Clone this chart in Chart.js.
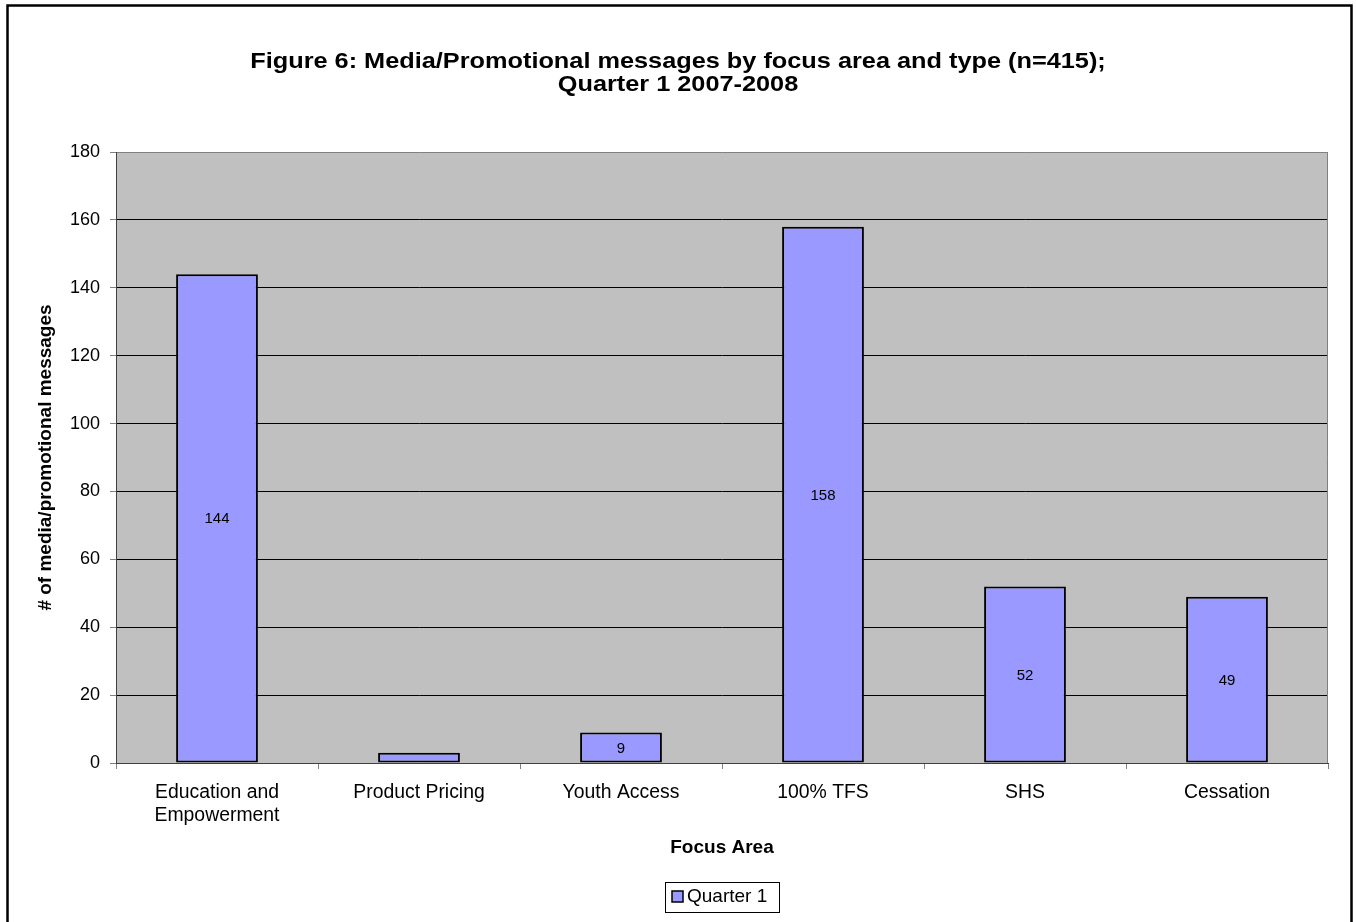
<!DOCTYPE html>
<html>
<head>
<meta charset="utf-8">
<script src="https://cdn.jsdelivr.net/npm/chart.js@4"></script>
<style>
  html, body { margin: 0; padding: 0; background: #ffffff; }
  #wrap { width: 1356px; height: 922px; }
</style>
</head>
<body>
<div id="wrap"><canvas id="chart" width="1356" height="922"></canvas></div>
<script>
// Focus areas and message counts for Quarter 1
const categories = [
  ['Education and', 'Empowerment'],
  'Product Pricing',
  'Youth Access',
  '100% TFS',
  'SHS',
  'Cessation'
];
const quarter1 = [144, 3, 9, 158, 52, 49];
const seriesName = 'Quarter 1';
const yTicks = { min: 0, max: 180, step: 20 };

const titleLines = [
  'Figure 6: Media/Promotional messages by focus area and type (n=415);',
  'Quarter 1 2007-2008'
];
const xTitle = 'Focus Area';
const yTitle = '# of media/promotional messages';

const FONT = "'Liberation Sans', Arial, sans-serif";
const BAR_FILL = '#9999FF';

// Gray plot background behind the bars
const plotBackground = {
  id: 'plotBackground',
  beforeDraw(chart) {
    const { ctx, chartArea: a } = chart;
    ctx.save();
    ctx.fillStyle = '#C0C0C0';
    ctx.fillRect(a.left, a.top, a.right - a.left, a.bottom - a.top);
    ctx.restore();
  }
};

// Draws text centred at (x, y) and stretched horizontally by sx
function wideText(ctx, text, x, y, sx) {
  ctx.save();
  ctx.translate(x, y);
  ctx.scale(sx, 1);
  ctx.fillText(text, 0, 0);
  ctx.restore();
}

// Frame, plot border, titles, value labels and legend
const decorations = {
  id: 'decorations',
  afterDraw(chart) {
    const { ctx, chartArea: a } = chart;
    ctx.save();

    // right plot border
    ctx.strokeStyle = '#808080';
    ctx.lineWidth = 1;
    ctx.beginPath();
    ctx.moveTo(Math.round(a.right) - 0.5, a.top);
    ctx.lineTo(Math.round(a.right) - 0.5, a.bottom);
    ctx.stroke();

    // outer frame
    ctx.strokeStyle = '#000000';
    ctx.lineWidth = 2.5;
    ctx.strokeRect(7.5, 5.5, 1344, 960);

    // chart title
    ctx.fillStyle = '#000000';
    ctx.textAlign = 'center';
    ctx.textBaseline = 'middle';
    ctx.font = 'bold 22px ' + FONT;
    wideText(ctx, titleLines[0], 678, 62, 1.15);
    wideText(ctx, titleLines[1], 678, 85, 1.15);

    // x axis title
    ctx.font = 'bold 19px ' + FONT;
    ctx.fillText(xTitle, (a.left + a.right) / 2, 848);

    // y axis title
    ctx.save();
    ctx.translate(46, (a.top + a.bottom) / 2);
    ctx.rotate(-Math.PI / 2);
    ctx.fillText(yTitle, 0, 0);
    ctx.restore();

    // value labels centred in each bar
    const meta = chart.getDatasetMeta(0);
    ctx.font = '15px ' + FONT;
    meta.data.forEach((bar, i) => {
      const h = bar.base - bar.y;
      if (h < 20) return;
      ctx.fillText(String(quarter1[i]), bar.x, (bar.y + bar.base) / 2 + 1);
    });

    // legend box
    const lx = 665, ly = 882, lw = 114, lh = 30;
    ctx.fillStyle = '#ffffff';
    ctx.fillRect(lx, ly, lw, lh);
    ctx.strokeStyle = '#000000';
    ctx.lineWidth = 1;
    ctx.strokeRect(lx + 0.5, ly + 0.5, lw, lh);
    ctx.fillStyle = BAR_FILL;
    ctx.fillRect(672, 891, 11, 11);
    ctx.lineWidth = 1.5;
    ctx.strokeRect(672, 891, 11, 11);
    ctx.fillStyle = '#000000';
    ctx.textAlign = 'left';
    ctx.font = '19px ' + FONT;
    ctx.fillText(seriesName, 687, 897);

    ctx.restore();
  }
};

new Chart(document.getElementById('chart'), {
  type: 'bar',
  data: {
    labels: categories,
    datasets: [{
      label: seriesName,
      data: quarter1,
      backgroundColor: BAR_FILL,
      borderColor: '#000000',
      borderWidth: 2,
      borderSkipped: false,
      barPercentage: 0.405,
      categoryPercentage: 1.0
    }]
  },
  options: {
    responsive: false,
    animation: false,
    events: [],
    layout: { padding: { top: 152, right: 28, bottom: 0, left: 0 } },
    plugins: {
      legend: { display: false },
      title: { display: false },
      tooltip: { enabled: false }
    },
    scales: {
      x: {
        afterFit(scale) { scale.height = 159; },
        grid: {
          offset: true,
          drawOnChartArea: false,
          tickLength: 6,
          color: '#808080',
          tickColor: '#808080'
        },
        border: { color: '#404040', width: 1 },
        ticks: {
          color: '#000000',
          padding: 12,
          font: { family: FONT, size: 19.4, lineHeight: 1.2 },
          maxRotation: 0,
          autoSkip: false
        }
      },
      y: {
        min: yTicks.min,
        max: yTicks.max,
        afterFit(scale) { scale.width = 116; },
        grid: {
          tickLength: 6,
          color: (c) => (c.tick && c.tick.value === yTicks.max ? '#808080' : '#000000'),
          tickColor: '#808080'
        },
        border: { color: '#404040', width: 1 },
        ticks: {
          stepSize: yTicks.step,
          color: '#000000',
          padding: 10,
          font: { family: FONT, size: 18 }
        }
      }
    }
  },
  plugins: [plotBackground, decorations]
});
</script>
</body>
</html>
